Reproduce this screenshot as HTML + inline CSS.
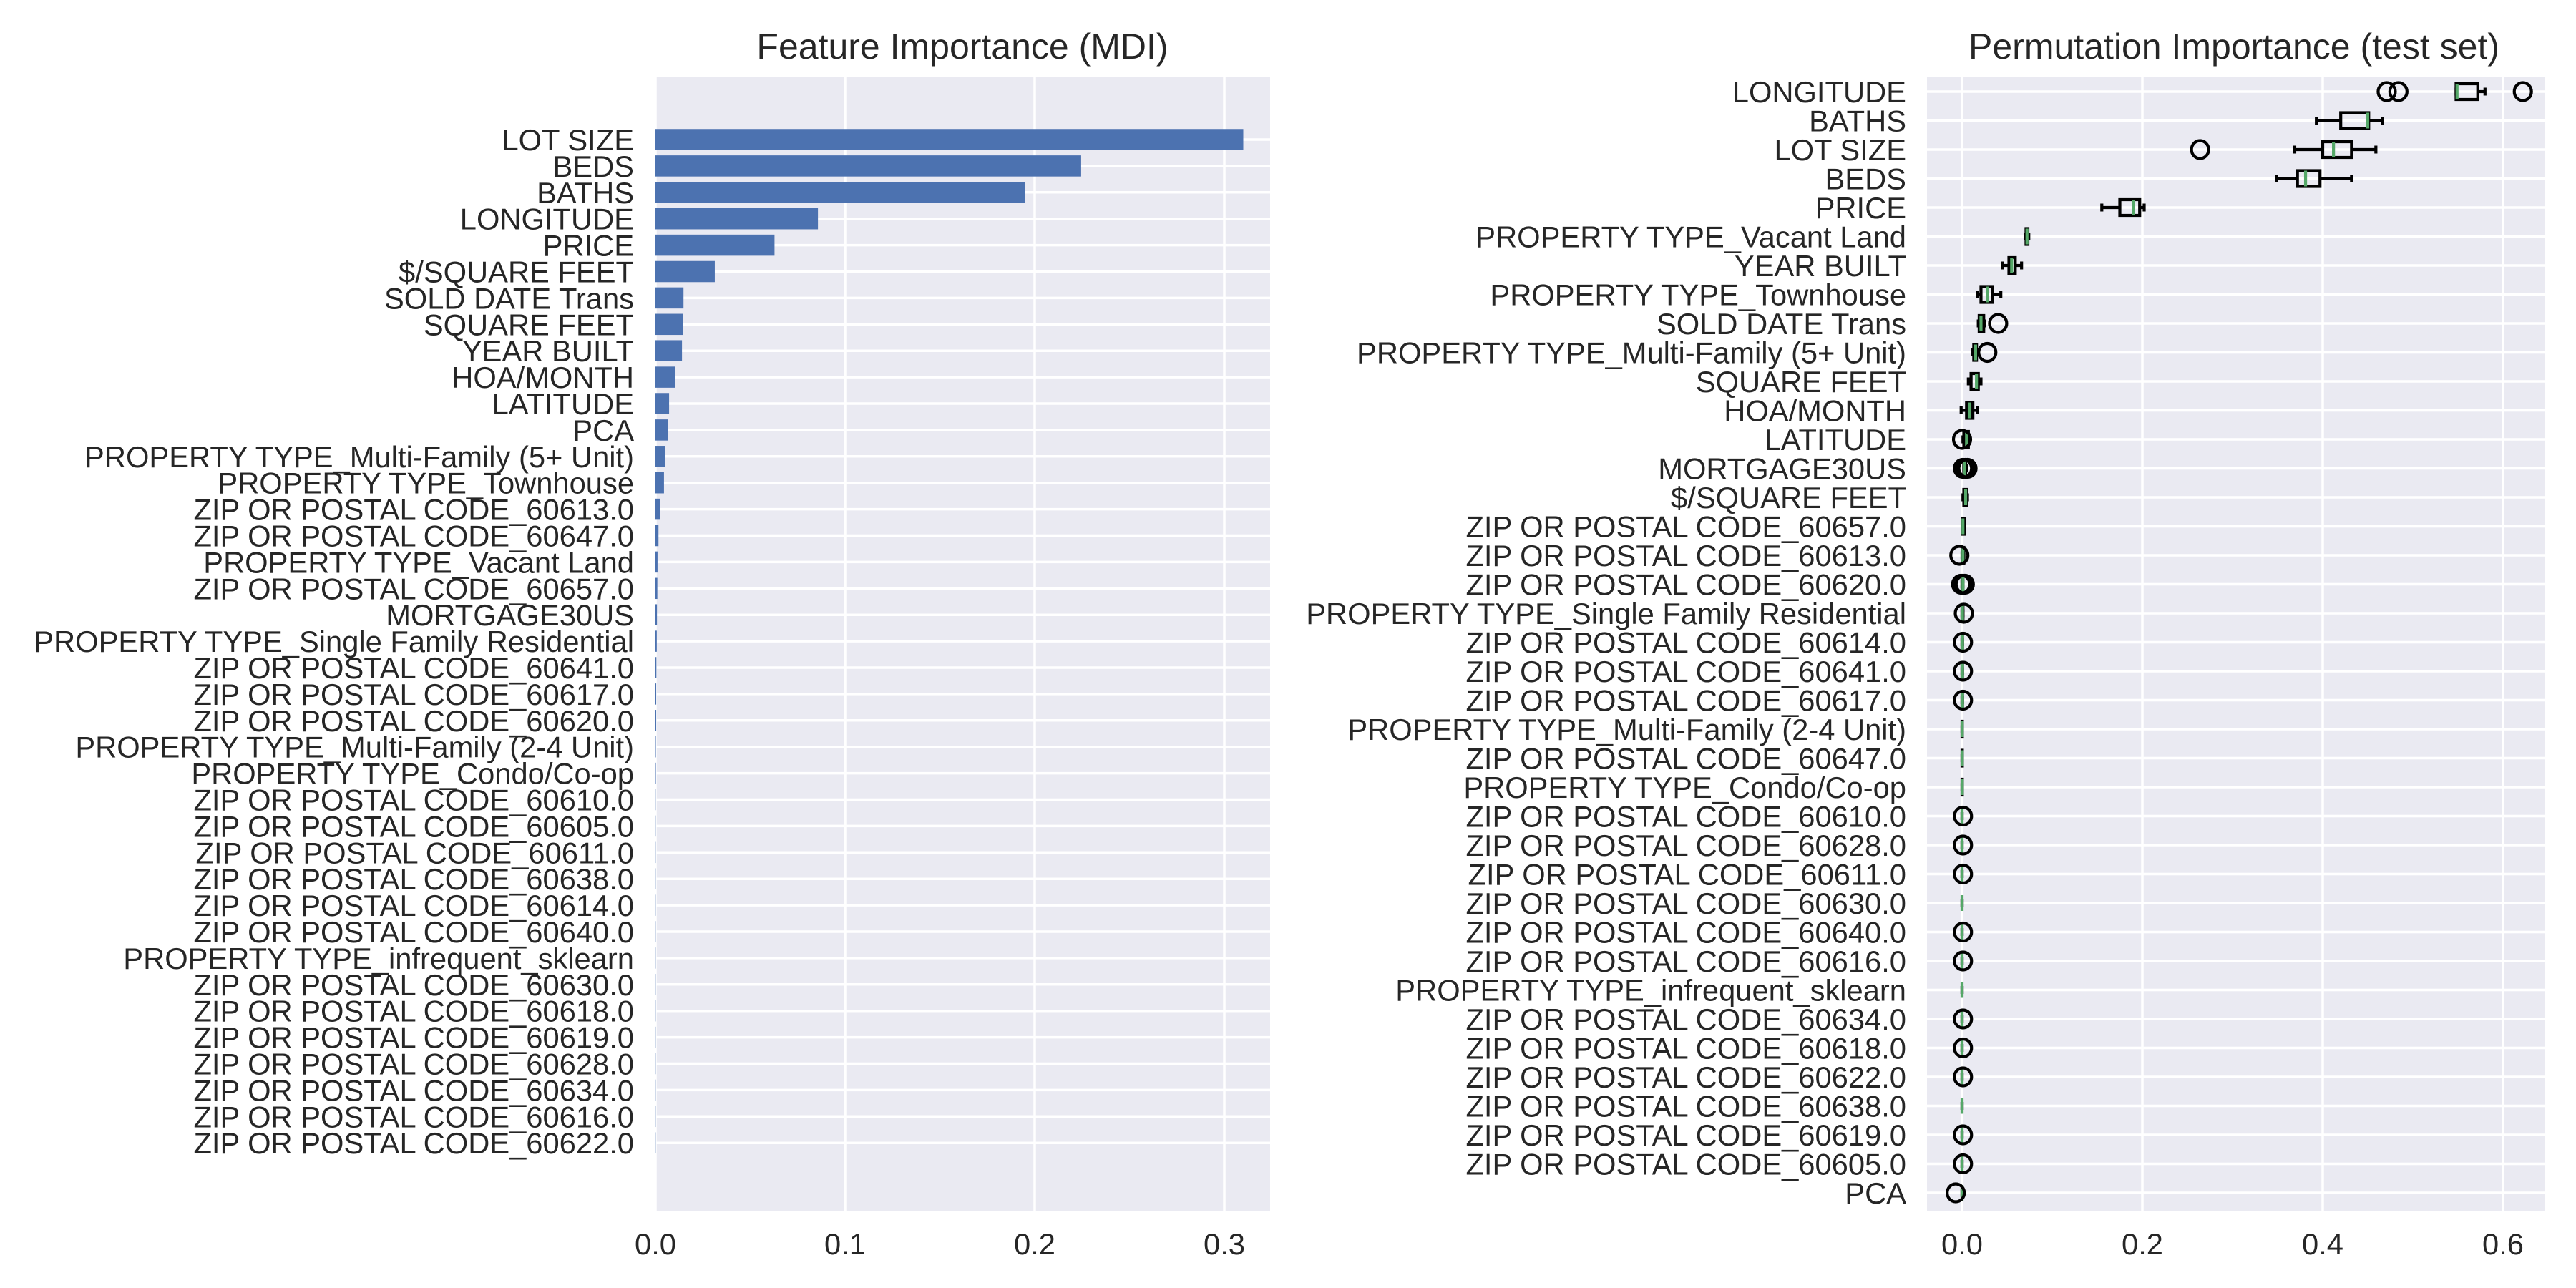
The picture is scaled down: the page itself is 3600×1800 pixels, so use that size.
<!DOCTYPE html>
<html><head><meta charset="utf-8"><style>
html,body{margin:0;padding:0;background:#fff;}
svg{display:block;font-family:"Liberation Sans",Arial,sans-serif;}
</style></head><body>
<svg id="fig" width="3600" height="1800" viewBox="0 0 3600 1800" xmlns="http://www.w3.org/2000/svg">
<rect x="0" y="0" width="3600" height="1800" fill="#ffffff"/>
<text x="1345" y="82" font-size="50" text-anchor="middle" fill="#262626">Feature Importance (MDI)</text>
<text x="3122" y="82" font-size="50" text-anchor="middle" fill="#262626">Permutation Importance (test set)</text>
<g id="left"></g>
<g id="right"></g>
</svg>
<script>
const mdiLabels = ["LOT SIZE","BEDS","BATHS","LONGITUDE","PRICE","$/SQUARE FEET","SOLD DATE Trans","SQUARE FEET","YEAR BUILT","HOA/MONTH","LATITUDE","PCA","PROPERTY TYPE_Multi-Family (5+ Unit)","PROPERTY TYPE_Townhouse","ZIP OR POSTAL CODE_60613.0","ZIP OR POSTAL CODE_60647.0","PROPERTY TYPE_Vacant Land","ZIP OR POSTAL CODE_60657.0","MORTGAGE30US","PROPERTY TYPE_Single Family Residential","ZIP OR POSTAL CODE_60641.0","ZIP OR POSTAL CODE_60617.0","ZIP OR POSTAL CODE_60620.0","PROPERTY TYPE_Multi-Family (2-4 Unit)","PROPERTY TYPE_Condo/Co-op","ZIP OR POSTAL CODE_60610.0","ZIP OR POSTAL CODE_60605.0","ZIP OR POSTAL CODE_60611.0","ZIP OR POSTAL CODE_60638.0","ZIP OR POSTAL CODE_60614.0","ZIP OR POSTAL CODE_60640.0","PROPERTY TYPE_infrequent_sklearn","ZIP OR POSTAL CODE_60630.0","ZIP OR POSTAL CODE_60618.0","ZIP OR POSTAL CODE_60619.0","ZIP OR POSTAL CODE_60628.0","ZIP OR POSTAL CODE_60634.0","ZIP OR POSTAL CODE_60616.0","ZIP OR POSTAL CODE_60622.0"];
const mdiValues = [0.310,0.2245,0.195,0.0857,0.0628,0.0313,0.0148,0.0146,0.0140,0.0105,0.0072,0.0066,0.0052,0.0045,0.0026,0.0016,0.0011,0.0010,0.0008,0.0007,0.0005,0.0004,0.0004,0.0002,0.0002,0.0001,0.0001,0.0001,0.0001,0.0001,0.0001,0.0001,0.0001,0.0001,0.0001,0.0001,0.0001,0.0001,0.0001];
const mdiTicks = [0.0,0.1,0.2,0.3];
const mdiTickLabels = ["0.0","0.1","0.2","0.3"];

const permLabels = ["LONGITUDE","BATHS","LOT SIZE","BEDS","PRICE","PROPERTY TYPE_Vacant Land","YEAR BUILT","PROPERTY TYPE_Townhouse","SOLD DATE Trans","PROPERTY TYPE_Multi-Family (5+ Unit)","SQUARE FEET","HOA/MONTH","LATITUDE","MORTGAGE30US","$/SQUARE FEET","ZIP OR POSTAL CODE_60657.0","ZIP OR POSTAL CODE_60613.0","ZIP OR POSTAL CODE_60620.0","PROPERTY TYPE_Single Family Residential","ZIP OR POSTAL CODE_60614.0","ZIP OR POSTAL CODE_60641.0","ZIP OR POSTAL CODE_60617.0","PROPERTY TYPE_Multi-Family (2-4 Unit)","ZIP OR POSTAL CODE_60647.0","PROPERTY TYPE_Condo/Co-op","ZIP OR POSTAL CODE_60610.0","ZIP OR POSTAL CODE_60628.0","ZIP OR POSTAL CODE_60611.0","ZIP OR POSTAL CODE_60630.0","ZIP OR POSTAL CODE_60640.0","ZIP OR POSTAL CODE_60616.0","PROPERTY TYPE_infrequent_sklearn","ZIP OR POSTAL CODE_60634.0","ZIP OR POSTAL CODE_60618.0","ZIP OR POSTAL CODE_60622.0","ZIP OR POSTAL CODE_60638.0","ZIP OR POSTAL CODE_60619.0","ZIP OR POSTAL CODE_60605.0","PCA"];
const whiskerLo = [0.548,0.393,0.369,0.349,0.155,0.070,0.045,0.017,0.018,0.012,0.007,-0.001,0.001,0.002,0.001,0.0003,0.0,0.0,0.0,0.0,0.0,0.0,0.0,0.0,0.0,0.0,0.0,0.0,0.0,0.0,0.0,0.0,0.0,0.0,0.0,0.0,0.0,0.0,0.0];
const q1 = [0.548,0.420,0.400,0.372,0.175,0.071,0.052,0.021,0.019,0.013,0.010,0.005,0.002,0.002,0.002,0.0005,0.0005,0.0,0.0,0.0,0.0,0.0,0.0,0.0,0.0,0.0,0.0,0.0,0.0,0.0,0.0,0.0,0.0,0.0,0.0,0.0,0.0,0.0,0.0];
const medians = [0.549,0.450,0.412,0.381,0.190,0.072,0.055,0.028,0.021,0.015,0.016,0.008,0.005,0.003,0.004,0.001,0.001,0.001,0.0005,0.0005,0.0005,0.0005,0.0002,0.0002,0.0002,0.0,0.0,0.0,0.0,0.0,0.0,0.0,0.0,0.0,0.0,0.0,0.0,0.0,0.0];
const q3 = [0.572,0.451,0.432,0.397,0.197,0.073,0.059,0.034,0.024,0.016,0.018,0.012,0.007,0.004,0.005,0.0025,0.002,0.001,0.001,0.0005,0.0005,0.0005,0.0003,0.0003,0.0003,0.0,0.0,0.0,0.0,0.0,0.0,0.0,0.0,0.0,0.0,0.0,0.0,0.0,0.0];
const whiskerHi = [0.580,0.466,0.459,0.432,0.202,0.074,0.066,0.043,0.025,0.017,0.021,0.017,0.008,0.005,0.006,0.003,0.002,0.001,0.001,0.0005,0.0005,0.0005,0.0003,0.0003,0.0003,0.0,0.0,0.0,0.0,0.0,0.0,0.0,0.0,0.0,0.0,0.0,0.0,0.0,0.0];
const fliers = [[0.471,0.484,0.622],[],[0.264],[],[],[],[],[],[0.040],[0.028],[],[],[0.0],[0.001,0.004,0.006],[],[],[-0.003],[-0.001,0.001,0.003],[0.002],[0.001],[0.001],[0.001],[],[],[],[0.001],[0.001],[0.001],[],[0.001],[0.001],[],[0.001],[0.001],[0.001],[],[0.001],[0.001],[-0.007]];
const permTicks = [0.0,0.2,0.4,0.6];
const permTickLabels = ["0.0","0.2","0.4","0.6"];

const NS = "http://www.w3.org/2000/svg";
function mk(parent, tag, attrs){ const e=document.createElementNS(NS,tag); for(const k in attrs) e.setAttribute(k,attrs[k]); parent.appendChild(e); return e; }

const TOP=107, BOT=1692, TXT="#262626", BG="#EAEAF2";

// ---------- left: MDI ----------
(function(){
  const g=document.getElementById('left');
  const L=916, R=1775;
  const xS = v => L + v*2650;
  const yS = i => 195 + i*36.9;
  const bh = 0.8*36.9;
  const bg=mk(g,'rect',{x:L,y:TOP,width:R-L,height:BOT-TOP,fill:BG});
  
  
  mdiTicks.forEach((t,k)=>{
    const ln=mk(g,'line',{x1:xS(t),x2:xS(t),y1:TOP,y2:BOT,stroke:'#fff','stroke-width':3.5});
    
    
    const tx=mk(g,'text',{x:xS(t),y:1753,'font-size':41.7,'text-anchor':'middle',fill:TXT});
    tx.textContent=mdiTickLabels[k];
    
    
  });
  mdiLabels.forEach((lab,i)=>{
    const ln=mk(g,'line',{x1:L,x2:R,y1:yS(i),y2:yS(i),stroke:'#fff','stroke-width':3.5});
    
    
  });
  mdiLabels.forEach((lab,i)=>{
    const b=mk(g,'rect',{x:xS(0),y:yS(i)-bh/2,width:Math.max(0,xS(mdiValues[i])-xS(0)),height:bh,fill:'#4C72B0'});
    
    
    const tx=mk(g,'text',{x:886,y:yS(i)+15,'font-size':41.7,'text-anchor':'end',fill:TXT});
    tx.textContent=lab;
    
    
  });
})();

// ---------- right: permutation boxplot ----------
(function(){
  const g=document.getElementById('right');
  const L=2693, R=3557;
  const xS = v => 2742 + v*1260;
  const yS = i => 128 + i*40.5;
  const bh=22, cap=11, lw=4.2;
  const bg=mk(g,'rect',{x:L,y:TOP,width:R-L,height:BOT-TOP,fill:BG});
  
  
  permTicks.forEach((t,k)=>{
    const ln=mk(g,'line',{x1:xS(t),x2:xS(t),y1:TOP,y2:BOT,stroke:'#fff','stroke-width':3.5});
    
    
    const tx=mk(g,'text',{x:xS(t),y:1753,'font-size':41.7,'text-anchor':'middle',fill:TXT});
    tx.textContent=permTickLabels[k];
    
    
  });
  permLabels.forEach((lab,i)=>{
    const ln=mk(g,'line',{x1:L,x2:R,y1:yS(i),y2:yS(i),stroke:'#fff','stroke-width':3.5});
    
    
  });
  permLabels.forEach((lab,i)=>{
    const y=yS(i);
    const bx=mk(g,'g',{});
    
    
    const st={stroke:'#000','stroke-width':lw,fill:'none'};
    mk(bx,'line',Object.assign({x1:xS(whiskerLo[i]),x2:xS(q1[i]),y1:y,y2:y},st));
    mk(bx,'line',Object.assign({x1:xS(q3[i]),x2:xS(whiskerHi[i]),y1:y,y2:y},st));
    mk(bx,'line',Object.assign({x1:xS(whiskerLo[i]),x2:xS(whiskerLo[i]),y1:y-cap/2,y2:y+cap/2},st));
    mk(bx,'line',Object.assign({x1:xS(whiskerHi[i]),x2:xS(whiskerHi[i]),y1:y-cap/2,y2:y+cap/2},st));
    mk(bx,'rect',Object.assign({x:xS(q1[i]),y:y-bh/2,width:Math.max(0,xS(q3[i])-xS(q1[i])),height:bh},st));
    mk(bx,'line',{x1:xS(medians[i]),x2:xS(medians[i]),y1:y-bh/2,y2:y+bh/2,stroke:'#55A868','stroke-width':lw});
    fliers[i].forEach(f=>{
      const c=mk(bx,'ellipse',{cx:xS(f),cy:y,rx:12,ry:12.5,fill:'none',stroke:'#000','stroke-width':lw});
      
      
    });
    const tx=mk(g,'text',{x:2664,y:y+15,'font-size':41.7,'text-anchor':'end',fill:TXT});
    tx.textContent=lab;
    
    
  });
})();
</script>
</body></html>
